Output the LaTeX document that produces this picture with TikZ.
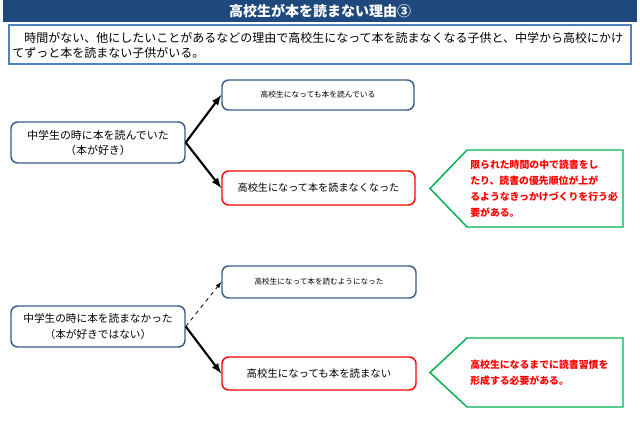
\documentclass[tikz,border=0pt]{standalone}
\usepackage{fontspec}
\setmainfont{Noto Sans CJK JP}
\usetikzlibrary{positioning}
\usetikzlibrary{arrows}

\definecolor{titleBlue}{RGB}{31,73,125}
\definecolor{frameBlue}{RGB}{79,129,189}
\definecolor{boxBlue}{RGB}{56,93,138}
\definecolor{hintGreen}{RGB}{0,176,80}

\begin{document}
\begin{tikzpicture}[x=0.75pt, y=-0.75pt,
    stateBox/.style={draw=boxBlue, line width=1.1pt, rounded corners=5pt, fill=white, align=center, inner sep=0pt},
    alertBox/.style={stateBox, draw=red},
    thickArrow/.style={-latex, line width=1.6pt},
    thinArrow/.style={-latex, line width=0.6pt, dashed},
    hintLine/.style={draw=hintGreen, line width=1.1pt},
    hintText/.style={anchor=west, align=left, text=red, font=\fontsize{7.4}{12}\selectfont\bfseries, inner sep=0pt}]

    \useasboundingbox (0,0) rectangle (640,437);

    \newcommand{\drawHint}[4]{
        % #1 = name
        % #2 = top (y)
        % #3 = bottom (y)
        % #4 = text
        \draw[hintLine] (430, {(#2+#3)/2}) -- (467,#2) -- (623,#2) -- (623,#3) -- (467,#3) -- cycle;
        \node[hintText] (#1) at (470, {(#2+#3)/2}) {#4};
    }

    % title and intro
    \fill[titleBlue] (3,0) rectangle (637,22);
    \node[text=white, font=\fontsize{10.5}{12}\selectfont\bfseries] (title) at (320,11) {高校生が本を読まない理由③};
    \draw[frameBlue, line width=1.1pt] (9,25) rectangle (631,64);
    \node[anchor=west, align=left, font=\fontsize{9}{11.3}\selectfont, inner sep=0pt] (intro) at (12,45.5)
        {　時間がない、他にしたいことがあるなどの理由で高校生になって本を読まなくなる子供と、中学から高校にかけ\\てずっと本を読まない子供がいる。};

    % reading in junior high
    \node[stateBox, minimum width=174*0.75pt, minimum height=41*0.75pt, font=\fontsize{8.2}{11.3}\selectfont] (readJH) at (98,142.5)
        {中学生の時に本を読んでいた\\（本が好き）};
    \node[stateBox, minimum width=192*0.75pt, minimum height=30*0.75pt, font=\fontsize{5.8}{7}\selectfont] (keepReading) at (318,95)
        {高校生になっても本を読んでいる};
    \node[alertBox, minimum width=193*0.75pt, minimum height=34*0.75pt, font=\fontsize{7.6}{9}\selectfont] (stopReading) at (318.5,188)
        {高校生になって本を読まなくなった};
    \draw[thickArrow] (readJH.east) -- (keepReading.west);
    \draw[thickArrow] (readJH.east) -- (stopReading.west);
    \drawHint{hintA}{150}{227}{限られた時間の中で読書をし\\たり、読書の優先順位が上が\\るようなきっかけづくりを行う必\\要がある。}

    % not reading in junior high
    \node[stateBox, minimum width=174*0.75pt, minimum height=41*0.75pt, font=\fontsize{8}{11.3}\selectfont] (noReadJH) at (98,326.5)
        {中学生の時に本を読まなかった\\（本が好きではない）};
    \node[stateBox, minimum width=194*0.75pt, minimum height=32*0.75pt, font=\fontsize{5.7}{7}\selectfont] (startReading) at (319,282)
        {高校生になって本を読むようになった};
    \node[alertBox, minimum width=194*0.75pt, minimum height=33*0.75pt, font=\fontsize{7.8}{9}\selectfont] (neverReading) at (319,373.5)
        {高校生になっても本を読まない};
    \draw[thinArrow] (noReadJH.east) -- (startReading.west);
    \draw[thickArrow] (noReadJH.east) -- (neverReading.west);
    \drawHint{hintB}{338}{407}{高校生になるまでに読書習慣を\\形成する必要がある。}

\end{tikzpicture}
\end{document}
